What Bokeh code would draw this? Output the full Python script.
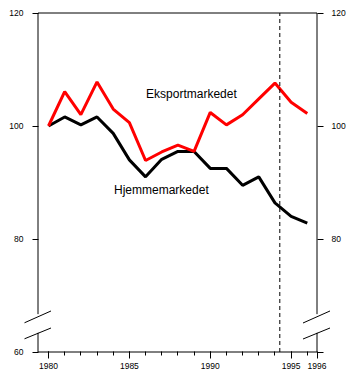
from bokeh.plotting import figure
from bokeh.models import (Range1d, LinearAxis, FixedTicker, Arrow, Label)
from bokeh.embed import file_html
from bokeh.resources import INLINE

years = list(range(1980, 1997))
eksport = [100.0, 106.1, 102.0, 107.8, 103.0, 100.6, 93.9, 95.4, 96.6, 95.5,
           102.4, 100.2, 102.0, 104.8, 107.6, 104.2, 102.2]
hjemme = [100.0, 101.6, 100.2, 101.6, 98.7, 94.0, 91.0, 94.1, 95.5, 95.5,
          92.5, 92.5, 89.5, 91.0, 86.4, 84.0, 82.8]
y_ticks = [60, 80, 100, 120]
x_major = [1980, 1985, 1990, 1995]
x_labels = ["1980", "1985", "1990", "1995", "1996"]
series_names = ["Eksportmarkedet", "Hjemmemarkedet"]
forecast_start = 1994.3

X0, X1 = 1979.35, 1996.6
Y0, Y1 = 60, 120
BRK_LO, BRK_HI = 63.4, 66.7
FONT = "Liberation Sans"

W, H = 356, 380
BL, BR, BT, BB = 24, 26, 10, 27
PAD_L, PAD_R, PAD_T, PAD_B = 13.5, 13.5, 2.5, 1.5
ppx = (W - BL - BR - PAD_L - PAD_R) / (X1 - X0)
ppy = (H - BT - BB - PAD_T - PAD_B) / (Y1 - Y0)

p = figure(width=W, height=H, output_backend="svg", toolbar_location=None,
           x_range=Range1d(X0 - PAD_L / ppx, X1 + PAD_R / ppx),
           y_range=Range1d(Y0 - PAD_B / ppy, Y1 + PAD_T / ppy),
           x_axis_type=None, y_axis_type=None,
           min_border_left=BL, min_border_right=BR, min_border_top=BT,
           min_border_bottom=BB)
p.outline_line_color = None
p.xgrid.visible = False
p.ygrid.visible = False
p.background_fill_color = "white"
p.border_fill_color = "white"

def style(ax):
    ax.axis_line_color = None
    ax.major_tick_line_color = "black"
    ax.minor_tick_line_color = None
    ax.major_tick_in = 0
    ax.minor_tick_in = 0
    ax.major_label_text_font = FONT
    ax.major_label_text_font_size = "8.5px"
    ax.major_label_text_color = "black"

# x axis (ticks + labels), frame bottom sits 1.5px below Y0
x_ticks = x_major + [X1]
xaxis = LinearAxis(ticker=FixedTicker(ticks=x_ticks, minor_ticks=years),
                   major_label_overrides={t: l for t, l in zip(x_ticks, x_labels)})
style(xaxis)
xaxis.minor_tick_line_color = "black"
xaxis.major_tick_in = 2
xaxis.major_tick_out = 5
xaxis.minor_tick_in = 2
xaxis.minor_tick_out = 2
xaxis.major_label_standoff = 4
p.add_layout(xaxis, "below")

# y ticks drawn at the axis positions
for side, loc in (("left", X0), ("right", X1)):
    ax = LinearAxis(ticker=FixedTicker(ticks=y_ticks), fixed_location=loc)
    style(ax)
    ax.major_tick_out = 6
    ax.major_label_text_color = None
    p.add_layout(ax, side)

# y labels at the frame edges
left_lab = LinearAxis(ticker=FixedTicker(ticks=y_ticks))
right_lab = LinearAxis(ticker=FixedTicker(ticks=y_ticks), major_label_overrides={60: ""})
for ax in (left_lab, right_lab):
    style(ax)
    ax.major_tick_line_color = None
    ax.major_tick_out = 0
    ax.major_label_standoff = 1
p.add_layout(left_lab, "left")
p.add_layout(right_lab, "right")

def seg(x0, y0, x1, y1, dash="solid"):
    p.add_layout(Arrow(end=None, start=None, x_start=x0, y_start=y0, x_end=x1, y_end=y1,
                       line_color="black", line_width=1, line_dash=dash, level="overlay"))

# frame lines with axis breaks
seg(X0, Y1, X1, Y1)
seg(X0, Y0, X1, Y0)
for xa in (X0, X1):
    seg(xa, Y1, xa, BRK_HI)
    seg(xa, BRK_LO, xa, Y0)
    seg(xa - 14 / ppx, 65.13, xa + 13 / ppx, 67.26)
    seg(xa - 14 / ppx, 62.30, xa + 13 / ppx, 64.25)

seg(forecast_start, Y0, forecast_start, Y1, dash="4 3")

p.line(years, hjemme, line_color="black", line_width=3)
p.line(years, eksport, line_color="#ff0000", line_width=3)

p.add_layout(Label(x=1986.03, y=105.6, text=series_names[0], text_font=FONT,
                   text_font_size="12px", text_baseline="middle", text_color="black"))
p.add_layout(Label(x=1984.05, y=88.7, text=series_names[1], text_font=FONT,
                   text_font_size="12px", text_baseline="middle", text_color="black"))

open("out.html", "w").write(file_html(p, INLINE))
